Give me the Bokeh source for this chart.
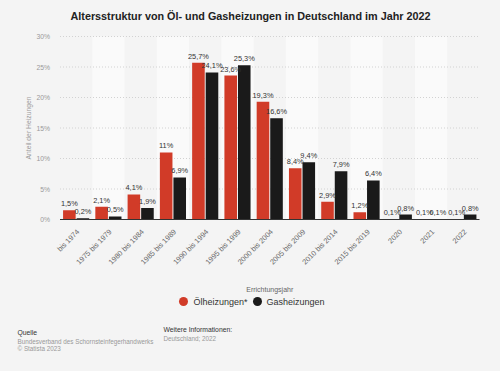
import math
from bokeh.plotting import figure
from bokeh.models import ColumnDataSource, Range1d
from bokeh.embed import file_html
from bokeh.resources import INLINE
from bokeh.core.properties import value

categories = ["bis 1974", "1975 bis 1979", "1980 bis 1984", "1985 bis 1989",
              "1990 bis 1994", "1995 bis 1999", "2000 bis 2004", "2005 bis 2009",
              "2010 bis 2014", "2015 bis 2019", "2020", "2021", "2022"]
oel = [1.5, 2.1, 4.1, 11, 25.7, 23.6, 19.3, 8.4, 2.9, 1.2, 0.1, 0.1, 0.1]
gas = [0.2, 0.5, 1.9, 6.9, 24.1, 25.3, 16.6, 9.4, 7.9, 6.4, 0.8, 0.1, 0.8]
y_ticks = [0, 5, 10, 15, 20, 25, 30]
y_tick_labels = ["0%", "5%", "10%", "15%", "20%", "25%", "30%"]
series_names = ["Ölheizungen*", "Gasheizungen"]
title_text = "Altersstruktur von Öl- und Gasheizungen in Deutschland im Jahr 2022"
x_title = "Errichtungsjahr"
y_title = "Anteil der Heizungen"

RED = "#d13b28"
BLACK = "#1a1a1a"
BG = "#f4f4f4"
FONT = "Liberation Sans"

# page / plotting-area geometry in pixels
W, H = 500, 371
FL, FR, FT, FB = 59.5, 479.0, 36.0, 219.0

n = len(categories)
ux = (FR - FL) / n                      # px per category
uy = (FB - FT) / (y_ticks[-1] - y_ticks[0])  # px per percent
x_start = -0.5 - FL / ux
x_end = n - 0.5 + (W - FR) / ux
y_start = y_ticks[0] - (H - FB) / uy
y_end = y_ticks[-1] + FT / uy


def fmt(v):
    s = ("%.1f" % v).rstrip("0").rstrip(".")
    return s.replace(".", ",") + "%"


p = figure(width=W, height=H, output_backend="svg", toolbar_location=None,
           x_range=Range1d(x_start, x_end), y_range=Range1d(y_start, y_end),
           x_axis_type=None, y_axis_type=None,
           background_fill_color=BG, border_fill_color=BG,
           outline_line_color=None, min_border=0)
p.xgrid.grid_line_color = None
p.ygrid.grid_line_color = None
# pixel coordinate system for page texts (title, legend, source)
p.extra_x_ranges = {"px": Range1d(0, W)}
p.extra_y_ranges = {"px": Range1d(H, 0)}

idx = list(range(n))
off = 0.21
w = 0.39
src = ColumnDataSource(dict(
    x=idx, cat=categories,
    xo=[i - off for i in idx], xg=[i + off for i in idx],
    oel=oel, gas=gas,
    lo=[fmt(v) for v in oel], lg=[fmt(v) for v in gas],
))
odd = [i for i in idx if i % 2 == 1]
bands = ColumnDataSource(dict(x=odd, top=[y_ticks[-1]] * len(odd)))

# alternating column bands
p.vbar(x="x", top="top", bottom=y_ticks[0], width=1.0, source=bands,
       fill_color="#fafafa", line_color=None)

# grid lines
gsrc = ColumnDataSource(dict(y=y_ticks[1:], x0=[-0.5] * (len(y_ticks) - 1),
                             x1=[n - 0.5] * (len(y_ticks) - 1)))
p.segment(x0="x0", x1="x1", y0="y", y1="y", source=gsrc,
          line_color="#d2d2d2", line_dash="1 2", line_width=1)

# bars
p.vbar(x="xo", top="oel", width=w, source=src, fill_color=RED, line_color=None)
p.vbar(x="xg", top="gas", width=w, source=src, fill_color=BLACK, line_color=None)

# x axis line
p.segment(x0=[-0.5], x1=[n - 0.5], y0=[0], y1=[0], line_color="#333333",
          line_width=1)

# value labels
for xcol, ycol, lcol in (("xo", "oel", "lo"), ("xg", "gas", "lg")):
    p.text(x=xcol, y=ycol, text=lcol, source=src, text_align="center",
           text_baseline="bottom", y_offset=-2, text_font=value(FONT),
           text_font_size="7.4px", text_color="#333333")

# x tick labels (rotated)
p.text(x="x", y=0, text="cat", source=src, angle=math.pi / 4,
       text_align="right", text_baseline="middle", x_offset=2, y_offset=11,
       text_font=value(FONT), text_font_size="7.4px", text_color="#666666")

# y tick labels
ysrc = ColumnDataSource(dict(y=y_ticks, t=y_tick_labels))
p.text(x=-0.5, y="y", text="t", source=ysrc, text_align="right",
       text_baseline="middle", x_offset=-10, text_font=value(FONT),
       text_font_size="6.8px", text_color="#9a9a9a")


def txt(x, y, text, size="7px", color="#999999", style="normal", align="left",
        angle=0.0):
    p.text(x=[x], y=[y], text=[text], x_range_name="px", y_range_name="px",
           text_font=value(FONT), text_font_size=size, text_color=color,
           text_font_style=style, text_align=align, text_baseline="middle",
           angle=angle)


# axis titles
txt(27.5, (FT + FB) / 2, y_title, size="6.8px", color="#9a9a9a", align="center",
    angle=math.pi / 2)
txt((FL + FR) / 2, 289, x_title, size="7px", color="#666666", align="center")

# chart title
txt(250, 15, title_text, size="10.8px", color="#222222", style="bold",
    align="center")

# legend
p.scatter(x=[183, 257], y=[301, 301], x_range_name="px", y_range_name="px",
          marker="circle", size=9, fill_color=[RED, BLACK], line_color=None)
txt(193, 301, series_names[0], size="9px", color="#333333")
txt(266, 301, series_names[1], size="9px", color="#333333")

# source / info
txt(17, 332, "Quelle", size="6.8px", color="#333333")
txt(17, 341, "Bundesverband des Schornsteinfegerhandwerks", size="6.3px")
txt(17, 348, "© Statista 2023", size="6.3px")
txt(163, 329, "Weitere Informationen:", size="6.8px", color="#333333")
txt(163, 338, "Deutschland; 2022", size="6.3px")

html = file_html(p, INLINE)
html = html.replace("<body>", '<body style="background-color:#f4f4f4;">')
open("out.html", "w").write(html)
